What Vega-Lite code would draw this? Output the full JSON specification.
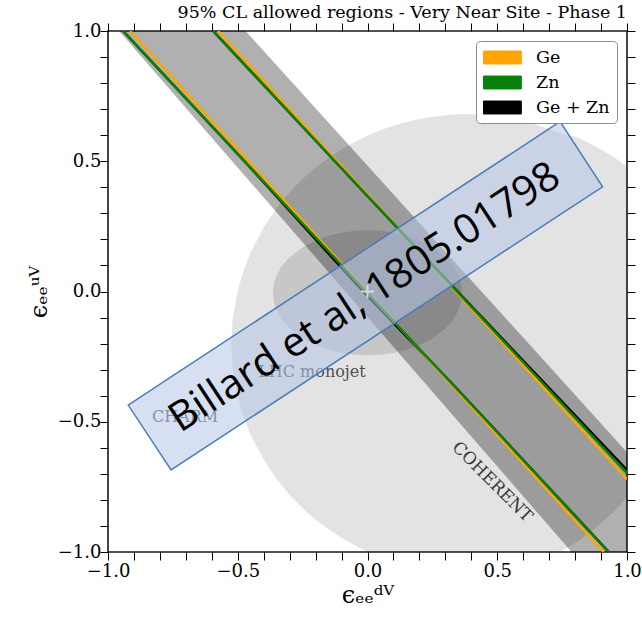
{
  "$schema": "https://vega.github.io/schema/vega-lite/v6.json",
  "width": 519,
  "height": 521,
  "autosize": {"type": "none"},
  "padding": {"left": 108, "top": 31, "right": 15, "bottom": 66},
  "background": "#ffffff",
  "config": {
    "view": {"stroke": "#1a1a1a", "strokeWidth": 1.6},
    "font": "DejaVu Serif",
    "legend": {
      "labelFont": "DejaVu Serif",
      "labelFontSize": 17.5,
      "labelColor": "#000000"
    }
  },
  "title": {
    "text": "95% CL allowed regions - Very Near Site - Phase 1",
    "anchor": "end",
    "frame": "group",
    "font": "DejaVu Serif",
    "fontSize": 17.5,
    "fontWeight": "normal",
    "color": "#000000",
    "offset": 1
  },
  "datasets": {
    "coherent": [
      {"x": -0.525, "hi": -0.2, "lo": -0.2},
      {"x": -0.52, "hi": -0.108, "lo": -0.292},
      {"x": -0.5, "hi": 0.005, "lo": -0.405},
      {"x": -0.475, "hi": 0.088, "lo": -0.488},
      {"x": -0.45, "hi": 0.151, "lo": -0.551},
      {"x": -0.4, "hi": 0.246, "lo": -0.646},
      {"x": -0.35, "hi": 0.32, "lo": -0.72},
      {"x": -0.3, "hi": 0.381, "lo": -0.781},
      {"x": -0.25, "hi": 0.432, "lo": -0.832},
      {"x": -0.2, "hi": 0.476, "lo": -0.876},
      {"x": -0.15, "hi": 0.513, "lo": -0.913},
      {"x": -0.1, "hi": 0.546, "lo": -0.946},
      {"x": -0.05, "hi": 0.574, "lo": -0.974},
      {"x": 0.0, "hi": 0.599, "lo": -0.999},
      {"x": 0.05, "hi": 0.619, "lo": -1.019},
      {"x": 0.1, "hi": 0.637, "lo": -1.037},
      {"x": 0.15, "hi": 0.651, "lo": -1.051},
      {"x": 0.2, "hi": 0.662, "lo": -1.062},
      {"x": 0.25, "hi": 0.671, "lo": -1.071},
      {"x": 0.3, "hi": 0.677, "lo": -1.077},
      {"x": 0.35, "hi": 0.68, "lo": -1.08},
      {"x": 0.4, "hi": 0.68, "lo": -1.08},
      {"x": 0.45, "hi": 0.677, "lo": -1.077},
      {"x": 0.5, "hi": 0.672, "lo": -1.072},
      {"x": 0.55, "hi": 0.664, "lo": -1.064},
      {"x": 0.6, "hi": 0.654, "lo": -1.054},
      {"x": 0.65, "hi": 0.64, "lo": -1.03},
      {"x": 0.7, "hi": 0.623, "lo": -1.012},
      {"x": 0.75, "hi": 0.606, "lo": -0.995},
      {"x": 0.8, "hi": 0.595, "lo": -0.965},
      {"x": 0.85, "hi": 0.572, "lo": -0.93},
      {"x": 0.9, "hi": 0.545, "lo": -0.89},
      {"x": 0.95, "hi": 0.515, "lo": -0.845},
      {"x": 1.0, "hi": 0.48, "lo": -0.79}
    ],
    "monojet": [
      {"x": -0.365, "hi": -0.005, "lo": -0.005},
      {"x": -0.36, "hi": 0.035, "lo": -0.045},
      {"x": -0.35, "hi": 0.063, "lo": -0.073},
      {"x": -0.33, "hi": 0.098, "lo": -0.108},
      {"x": -0.3, "hi": 0.132, "lo": -0.142},
      {"x": -0.25, "hi": 0.17, "lo": -0.18},
      {"x": -0.2, "hi": 0.196, "lo": -0.206},
      {"x": -0.15, "hi": 0.214, "lo": -0.224},
      {"x": -0.1, "hi": 0.226, "lo": -0.236},
      {"x": -0.05, "hi": 0.233, "lo": -0.243},
      {"x": 0.0, "hi": 0.235, "lo": -0.245},
      {"x": 0.05, "hi": 0.233, "lo": -0.243},
      {"x": 0.1, "hi": 0.226, "lo": -0.236},
      {"x": 0.15, "hi": 0.214, "lo": -0.224},
      {"x": 0.2, "hi": 0.196, "lo": -0.206},
      {"x": 0.25, "hi": 0.17, "lo": -0.18},
      {"x": 0.3, "hi": 0.132, "lo": -0.142},
      {"x": 0.33, "hi": 0.098, "lo": -0.108},
      {"x": 0.35, "hi": 0.063, "lo": -0.073},
      {"x": 0.36, "hi": 0.035, "lo": -0.045},
      {"x": 0.365, "hi": -0.005, "lo": -0.005}
    ],
    "charm": [
      {"x": -1.0, "hi": 1.583, "lo": 1.049},
      {"x": 1.0, "hi": -0.617, "lo": -1.245}
    ],
    "bounds": [
      {"series": "Ge + Zn", "edge": "left", "x": -0.942, "y": 1.0},
      {"series": "Ge + Zn", "edge": "left", "x": -0.474, "y": 0.5},
      {"series": "Ge + Zn", "edge": "left", "x": -0.017, "y": 0.0},
      {"series": "Ge + Zn", "edge": "left", "x": 0.322, "y": -0.35},
      {"series": "Ge + Zn", "edge": "left", "x": 0.93, "y": -1.0},
      {"series": "Ge + Zn", "edge": "right", "x": -0.595, "y": 1.0},
      {"series": "Ge + Zn", "edge": "right", "x": 0.251, "y": 0.1},
      {"series": "Ge + Zn", "edge": "right", "x": 1.0, "y": -0.685},
      {"series": "Ge", "edge": "left", "x": -0.915, "y": 1.0},
      {"series": "Ge", "edge": "left", "x": 0.91, "y": -1.0},
      {"series": "Ge", "edge": "right", "x": -0.576, "y": 1.0},
      {"series": "Ge", "edge": "right", "x": 1.0, "y": -0.72},
      {"series": "Zn", "edge": "left", "x": -0.942, "y": 1.0},
      {"series": "Zn", "edge": "left", "x": 0.93, "y": -1.0},
      {"series": "Zn", "edge": "right", "x": -0.595, "y": 1.0},
      {"series": "Zn", "edge": "right", "x": 1.0, "y": -0.697}
    ],
    "region_labels": [
      {"label": "LHC monojet", "x": -0.214, "y": -0.309},
      {"label": "CHARM", "x": -0.703, "y": -0.482}
    ],
    "coherent_label": [
      {"label": "COHERENT", "x": 0.48, "y": -0.731}
    ],
    "origin": [
      {"x": 0.0, "y": 0.0}
    ],
    "ref_box": [
      {"x": -0.922, "hi": -0.436, "lo": -0.436},
      {"x": -0.757, "hi": -0.328, "lo": -0.685},
      {"x": 0.742, "hi": 0.652, "lo": 0.295},
      {"x": 0.906, "hi": 0.402, "lo": 0.402}
    ],
    "ref_text": [
      {"label": "Billard et al, 1805.01798", "x": -0.01, "y": -0.025}
    ]
  },
  "resolve": {"axis": {"x": "independent", "y": "independent"}},
  "layer": [
    {
      "data": {"name": "coherent"},
      "mark": {"type": "area", "color": "#000000", "opacity": 0.11, "clip": true, "interpolate": "linear"},
      "encoding": {
        "x": {
          "field": "x", "type": "quantitative",
          "scale": {"domain": [-1, 1], "nice": false, "zero": false},
          "axis": {
            "orient": "bottom",
            "values": [-1, -0.9, -0.8, -0.7, -0.6, -0.5, -0.4, -0.3, -0.2, -0.1, 0, 0.1, 0.2, 0.3, 0.4, 0.5, 0.6, 0.7, 0.8, 0.9, 1],
            "labelExpr": "abs(round(datum.value * 10)) % 5 == 0 ? format(datum.value, '.1f') : ''",
            "labelFont": "DejaVu Serif", "labelFontSize": 18, "labelColor": "#000000",
            "labelPadding": 2, "labelFlush": false, "labelOverlap": false,
            "ticks": true, "tickSize": 8, "tickColor": "#000000", "tickWidth": 1,
            "domain": false, "grid": false,
            "title": "ϵₑₑᵈⱽ",
            "titleFont": "DejaVu Serif", "titleFontSize": 24, "titleFontWeight": "normal", "titleColor": "#000000",
            "titlePadding": 3,
            "encode": {"ticks": {"update": {"y2": {"signal": "abs(round(datum.value * 10)) % 5 == 0 ? -8 : -4"}}}}
          }
        },
        "y": {
          "field": "hi", "type": "quantitative",
          "scale": {"domain": [-1, 1], "nice": false, "zero": false},
          "axis": {
            "orient": "left",
            "values": [-1, -0.9, -0.8, -0.7, -0.6, -0.5, -0.4, -0.3, -0.2, -0.1, 0, 0.1, 0.2, 0.3, 0.4, 0.5, 0.6, 0.7, 0.8, 0.9, 1],
            "labelExpr": "abs(round(datum.value * 10)) % 5 == 0 ? format(datum.value, '.1f') : ''",
            "labelFont": "DejaVu Serif", "labelFontSize": 18, "labelColor": "#000000",
            "labelPadding": -1, "labelFlush": false, "labelOverlap": false,
            "ticks": true, "tickSize": 8, "tickColor": "#000000", "tickWidth": 1,
            "domain": false, "grid": false,
            "title": "ϵₑₑᵘⱽ",
            "titleFont": "DejaVu Serif", "titleFontSize": 24, "titleFontWeight": "normal", "titleColor": "#000000",
            "titlePadding": 6,
            "encode": {"ticks": {"update": {"x2": {"signal": "abs(round(datum.value * 10)) % 5 == 0 ? 8 : 4"}}}}
          }
        },
        "y2": {"field": "lo"}
      }
    },
    {
      "data": {"name": "monojet"},
      "mark": {"type": "area", "color": "#000000", "opacity": 0.12, "clip": true, "interpolate": "linear"},
      "encoding": {
        "x": {
          "field": "x", "type": "quantitative",
          "axis": {
            "orient": "top",
            "values": [-1, -0.9, -0.8, -0.7, -0.6, -0.5, -0.4, -0.3, -0.2, -0.1, 0, 0.1, 0.2, 0.3, 0.4, 0.5, 0.6, 0.7, 0.8, 0.9, 1],
            "labels": false, "ticks": true, "tickSize": 8, "tickColor": "#000000", "tickWidth": 1,
            "domain": false, "grid": false, "title": null,
            "encode": {"ticks": {"update": {"y2": {"signal": "abs(round(datum.value * 10)) % 5 == 0 ? 8 : 4"}}}}
          }
        },
        "y": {
          "field": "hi", "type": "quantitative",
          "axis": {
            "orient": "right",
            "values": [-1, -0.9, -0.8, -0.7, -0.6, -0.5, -0.4, -0.3, -0.2, -0.1, 0, 0.1, 0.2, 0.3, 0.4, 0.5, 0.6, 0.7, 0.8, 0.9, 1],
            "labels": false, "ticks": true, "tickSize": 8, "tickColor": "#000000", "tickWidth": 1,
            "domain": false, "grid": false, "title": null,
            "encode": {"ticks": {"update": {"x2": {"signal": "abs(round(datum.value * 10)) % 5 == 0 ? -8 : -4"}}}}
          }
        },
        "y2": {"field": "lo"}
      }
    },
    {
      "data": {"name": "charm"},
      "mark": {"type": "area", "color": "#000000", "opacity": 0.31, "clip": true, "interpolate": "linear"},
      "encoding": {
        "x": {"field": "x", "type": "quantitative", "axis": null},
        "y": {"field": "hi", "type": "quantitative", "axis": null},
        "y2": {"field": "lo"}
      }
    },
    {
      "data": {"name": "bounds"},
      "transform": [{"filter": "datum.series == 'Ge + Zn'"}],
      "mark": {"type": "line", "strokeWidth": 2.5, "clip": true},
      "encoding": {
        "x": {"field": "x", "type": "quantitative", "axis": null},
        "y": {"field": "y", "type": "quantitative", "axis": null},
        "detail": {"field": "edge"},
        "color": {
          "field": "series", "type": "nominal",
          "scale": {"domain": ["Ge", "Zn", "Ge + Zn"], "range": ["#ffa500", "#0a820a", "#000000"]},
          "legend": {
            "orient": "top-right", "offset": 10, "title": null,
            "symbolType": "M-1,-0.72L3.2,-0.72L3.2,0.72L-1,0.72Z",
            "symbolSize": 324,
            "labelFont": "DejaVu Serif", "labelFontSize": 17.5, "labelColor": "#000000",
            "labelOffset": 34, "padding": 7, "rowPadding": 7,
            "strokeColor": "#8c8c8c", "fillColor": "#ffffff", "cornerRadius": 4,
            "encode": {"symbols": {"update": {
              "fill": {"scale": "color", "field": "value"},
              "stroke": {"value": "#262626"},
              "strokeWidth": {"value": 1},
              "opacity": {"value": 1}
            }}}
          }
        }
      }
    },
    {
      "data": {"name": "bounds"},
      "transform": [{"filter": "datum.series == 'Ge'"}],
      "mark": {"type": "line", "strokeWidth": 2.5, "clip": true},
      "encoding": {
        "x": {"field": "x", "type": "quantitative", "axis": null},
        "y": {"field": "y", "type": "quantitative", "axis": null},
        "detail": {"field": "edge"},
        "color": {"field": "series", "type": "nominal"}
      }
    },
    {
      "data": {"name": "bounds"},
      "transform": [{"filter": "datum.series == 'Zn'"}],
      "mark": {"type": "line", "strokeWidth": 2.5, "clip": true},
      "encoding": {
        "x": {"field": "x", "type": "quantitative", "axis": null},
        "y": {"field": "y", "type": "quantitative", "axis": null},
        "detail": {"field": "edge"},
        "color": {"field": "series", "type": "nominal"}
      }
    },
    {
      "data": {"name": "region_labels"},
      "mark": {"type": "text", "font": "DejaVu Serif", "fontSize": 16, "color": "#505050", "align": "center", "baseline": "middle"},
      "encoding": {
        "x": {"field": "x", "type": "quantitative", "axis": null},
        "y": {"field": "y", "type": "quantitative", "axis": null},
        "text": {"field": "label"}
      }
    },
    {
      "data": {"name": "coherent_label"},
      "mark": {"type": "text", "font": "DejaVu Serif", "fontSize": 17, "color": "#383838", "align": "center", "baseline": "middle", "angle": 45},
      "encoding": {
        "x": {"field": "x", "type": "quantitative", "axis": null},
        "y": {"field": "y", "type": "quantitative", "axis": null},
        "text": {"field": "label"}
      }
    },
    {
      "data": {"name": "origin"},
      "mark": {"type": "point", "shape": "M-1,0L1,0M0,-1L0,1", "size": 169, "filled": false, "stroke": "#ffffff", "strokeWidth": 2, "opacity": 0.9},
      "encoding": {
        "x": {"field": "x", "type": "quantitative", "axis": null},
        "y": {"field": "y", "type": "quantitative", "axis": null}
      }
    },
    {
      "data": {"name": "ref_box"},
      "mark": {"type": "area", "fill": "#b4c7e7", "fillOpacity": 0.55, "stroke": "#4a7ebb", "strokeWidth": 1.5, "interpolate": "linear", "clip": true},
      "encoding": {
        "x": {"field": "x", "type": "quantitative", "axis": null},
        "y": {"field": "hi", "type": "quantitative", "axis": null},
        "y2": {"field": "lo"}
      }
    },
    {
      "data": {"name": "ref_text"},
      "mark": {"type": "text", "font": "Open Sans", "fontSize": 41, "color": "#000000", "align": "center", "baseline": "middle", "angle": 326.8},
      "encoding": {
        "x": {"field": "x", "type": "quantitative", "axis": null},
        "y": {"field": "y", "type": "quantitative", "axis": null},
        "text": {"field": "label"}
      }
    }
  ]
}
